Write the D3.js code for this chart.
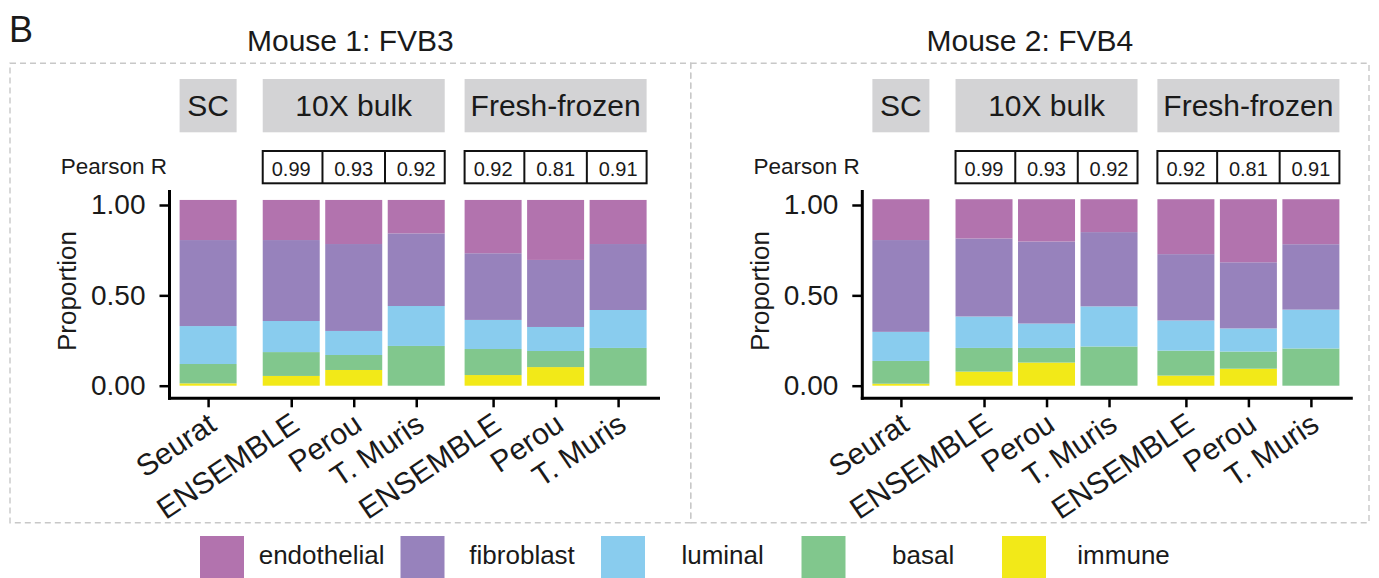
<!DOCTYPE html>
<html>
<head>
<meta charset="utf-8">
<script src="https://cdn.jsdelivr.net/npm/d3@7"></script>
<style>
  html, body { margin: 0; padding: 0; background: #ffffff; }
  svg text { font-family: "Liberation Sans", Arial, Helvetica, sans-serif; fill: #1a1a1a; }
</style>
</head>
<body>
<svg id="chart" width="1379" height="578"></svg>
<script>
// ---------------- DATA ----------------
const methods = ["Seurat", "ENSEMBLE", "Perou", "T. Muris", "ENSEMBLE", "Perou", "T. Muris"];
const groups  = ["SC", "10X bulk", "10X bulk", "10X bulk", "Fresh-frozen", "Fresh-frozen", "Fresh-frozen"];
const groupNames = ["SC", "10X bulk", "Fresh-frozen"];
const cellTypes = ["endothelial", "fibroblast", "luminal", "basal", "immune"];
const cellColors = ["#b273ae", "#9782bc", "#89ccee", "#81c78d", "#f2e918"];
const pearsonR = ["", "0.99", "0.93", "0.92", "0.92", "0.81", "0.91"];
const mouseTitles = ["Mouse 1: FVB3", "Mouse 2: FVB4"];
const yTicks = [0, 0.5, 1];

// Mouse 1 (FVB3) proportions per method
const m1_immune      = [0.013, 0.054, 0.087, 0.000, 0.059, 0.103, 0.000];
const m1_basal       = [0.107, 0.132, 0.083, 0.220, 0.144, 0.089, 0.209];
const m1_luminal     = [0.210, 0.172, 0.133, 0.221, 0.161, 0.133, 0.210];
const m1_fibroblast  = [0.476, 0.448, 0.481, 0.402, 0.369, 0.371, 0.365];
const m1_endothelial = [0.222, 0.222, 0.244, 0.185, 0.295, 0.332, 0.244];

// Mouse 2 (FVB4) proportions per method
const m2_immune      = [0.011, 0.078, 0.128, 0.000, 0.056, 0.094, 0.000];
const m2_basal       = [0.126, 0.131, 0.081, 0.217, 0.138, 0.095, 0.206];
const m2_luminal     = [0.161, 0.174, 0.135, 0.222, 0.167, 0.128, 0.215];
const m2_fibroblast  = [0.508, 0.432, 0.454, 0.411, 0.367, 0.366, 0.362];
const m2_endothelial = [0.226, 0.217, 0.234, 0.182, 0.304, 0.349, 0.249];

const mice = [
  {endothelial: m1_endothelial, fibroblast: m1_fibroblast, luminal: m1_luminal, basal: m1_basal, immune: m1_immune},
  {endothelial: m2_endothelial, fibroblast: m2_fibroblast, luminal: m2_luminal, basal: m2_basal, immune: m2_immune}
];

// ---------------- LAYOUT ----------------
const svg = d3.select("#chart");
const FONT = "'Liberation Sans', Arial, Helvetica, sans-serif";
const panelShift = 692.8;
const axisX = 169.5, axisBottomY = 398.3, axisTopY = 190, axisRight = 660;
const groupGap = {"SC": 0, "10X bulk": 0.33, "Fresh-frozen": 0.56};
const slotUnit = 62.5, barW = 57, firstBarLeft = 179.6;

const slots = methods.map((m, i) => i + groupGap[groups[i]]);
const xs = d3.scaleLinear().domain([0, 1]).range([firstBarLeft, firstBarLeft + slotUnit]);
const y = d3.scaleLinear().domain([0, 1]).range([385.7, 205]);
const color = d3.scaleOrdinal().domain(cellTypes).range(cellColors);

const stackOrder = ["immune", "basal", "luminal", "fibroblast", "endothelial"];

// panel dashed frames
const frames = [[10, 690.7], [690.7, 1369]];
frames.forEach(f => {
  svg.append("rect")
    .attr("x", f[0]).attr("y", 63.3)
    .attr("width", f[1] - f[0]).attr("height", 522.7 - 63.3)
    .attr("fill", "none").attr("stroke", "#c8c8c8")
    .attr("stroke-width", 1.4).attr("stroke-dasharray", "6,4");
});

svg.append("text").attr("x", 9).attr("y", 42)
  .style("font-size", "36px").text("B");

const titleCenters = [(frames[0][0] + frames[0][1]) / 2, (frames[1][0] + frames[1][1]) / 2];
mouseTitles.forEach((t, i) => {
  svg.append("text").attr("x", titleCenters[i]).attr("y", 51)
    .attr("text-anchor", "middle").style("font-size", "30px").text(t);
});

mice.forEach((mouse, mi) => {
  const g = svg.append("g").attr("transform", `translate(${mi * panelShift},0)`);

  const rows = methods.map((m, i) => {
    const r = {idx: i};
    cellTypes.forEach(c => r[c] = mouse[c][i]);
    return r;
  });
  const series = d3.stack().keys(stackOrder)(rows);

  g.append("g").selectAll("g").data(series).join("g")
    .attr("fill", d => color(d.key))
    .selectAll("rect").data(d => d).join("rect")
    .attr("x", d => xs(slots[d.data.idx]))
    .attr("width", barW)
    .attr("y", d => y(d[1]))
    .attr("height", d => Math.max(0, y(d[0]) - y(d[1])));

  groupNames.forEach(gn => {
    const idxs = methods.map((m, i) => i).filter(i => groups[i] === gn);
    const x0 = xs(slots[idxs[0]]), x1 = xs(slots[idxs[idxs.length - 1]]) + barW;
    g.append("rect").attr("x", x0).attr("y", 79).attr("width", x1 - x0).attr("height", 53.3)
      .attr("fill", "#d3d3d5");
    g.append("text").attr("x", (x0 + x1) / 2).attr("y", 105.7)
      .attr("text-anchor", "middle").attr("dominant-baseline", "central")
      .style("font-size", "30px").text(gn);

    if (gn !== "SC") {
      g.append("rect").attr("x", x0).attr("y", 151).attr("width", x1 - x0).attr("height", 32.3)
        .attr("fill", "#fff").attr("stroke", "#111").attr("stroke-width", 2);
      idxs.forEach((i, k) => {
        const bl = xs(slots[i]);
        if (k > 0) {
          const prevRight = xs(slots[idxs[k - 1]]) + barW;
          const mx = (prevRight + bl) / 2;
          g.append("line").attr("x1", mx).attr("x2", mx).attr("y1", 151).attr("y2", 183.3)
            .attr("stroke", "#111").attr("stroke-width", 2);
        }
        g.append("text").attr("x", bl + barW / 2).attr("y", 168.5)
          .attr("text-anchor", "middle").attr("dominant-baseline", "central")
          .style("font-size", "20px").text(pearsonR[i]);
      });
    }
  });

  g.append("text").attr("x", 60.7).attr("y", 174).style("font-size", "22.5px").text("Pearson R");

  const yAxis = d3.axisLeft(y).tickValues(yTicks).tickFormat(d3.format(".2f"))
    .tickSize(10).tickPadding(14);
  const ya = g.append("g").attr("transform", `translate(${axisX},0)`).call(yAxis);
  ya.select(".domain").remove();
  ya.selectAll(".tick line").attr("stroke", "#000").attr("stroke-width", 2.5);
  ya.selectAll(".tick text").style("font-size", "28px").style("font-family", FONT).attr("fill", "#1a1a1a");
  g.append("line").attr("x1", axisX).attr("x2", axisX).attr("y1", axisTopY).attr("y2", axisBottomY + 1.5)
    .attr("stroke", "#000").attr("stroke-width", 3);

  const xCenters = d3.scaleOrdinal().domain(d3.range(methods.length))
    .range(methods.map((m, i) => xs(slots[i]) + barW / 2));
  const xAxis = d3.axisBottom(xCenters).tickSize(9).tickFormat("");
  const xa = g.append("g").attr("transform", `translate(0,${axisBottomY})`).call(xAxis);
  xa.select(".domain").remove();
  xa.selectAll(".tick line").attr("stroke", "#000").attr("stroke-width", 2.5);
  g.append("line").attr("x1", axisX - 1.5).attr("x2", axisRight).attr("y1", axisBottomY).attr("y2", axisBottomY)
    .attr("stroke", "#000").attr("stroke-width", 3);

  g.append("g").selectAll("text").data(methods).join("text")
    .attr("transform", (d, i) => `translate(${xs(slots[i]) + barW / 2 - 2},411) rotate(-34)`)
    .attr("text-anchor", "end").attr("dy", "0.72em")
    .style("font-size", "30px").text(d => d);

  g.append("text").attr("transform", "translate(67,291) rotate(-90)")
    .attr("text-anchor", "middle").attr("dominant-baseline", "central")
    .style("font-size", "26px").text("Proportion");
});

const legendStart = 200, legendStep = 200.5;
const lg = svg.append("g");
cellTypes.forEach((c, i) => {
  const lx = legendStart + i * legendStep;
  lg.append("rect").attr("x", lx).attr("y", 536).attr("width", 44).attr("height", 42)
    .attr("fill", color(c));
  lg.append("text").attr("x", lx + 121.6).attr("y", 564).attr("text-anchor", "middle")
    .style("font-size", "26px").text(c);
});
</script>
</body>
</html>
